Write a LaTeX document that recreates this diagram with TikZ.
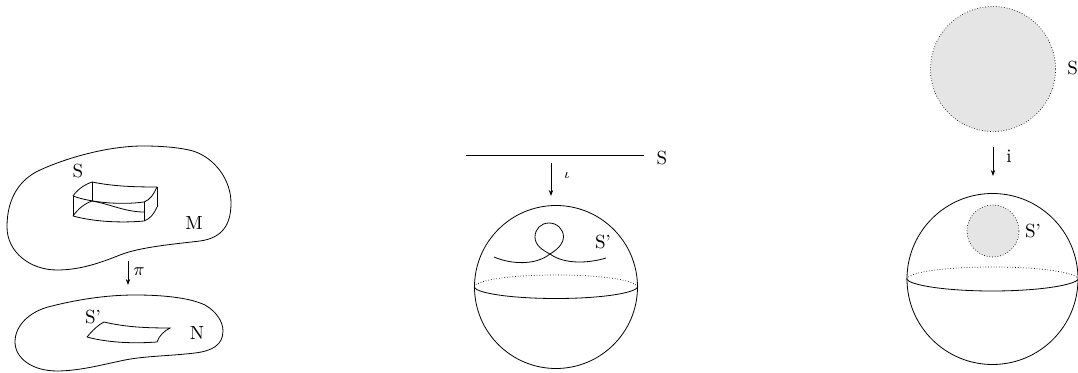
\documentclass[tikz,border=0pt]{standalone}
\usetikzlibrary{arrows.meta}
\tikzset{
  every node/.style={inner sep=0pt,font=\fontsize{9.5}{11}\selectfont},
  ln/.style={line width=0.4pt,black},
  dot/.style={line width=0.35pt,densely dotted},
  arr/.style={line width=0.4pt,-{Stealth[length=3pt,width=2.2pt]}},
  lbl/.style={anchor=center},
  fillg/.style={fill=black!10}
}
\begin{document}
\begin{tikzpicture}[x=0.5pt,y=-0.5pt]
\useasboundingbox (0,0) rectangle (1078,373);
% left blobs
\draw[ln] (7,227) .. controls (7,200) and (18,182) .. (36,172) .. controls (60,160) and (105,146) .. (143,146) .. controls (165,146) and (182,148) .. (193,151) .. controls (215,158) and (231,180) .. (231,203) .. controls (231,225) and (222,238) .. (200,241) .. controls (175,244) and (140,247) .. (120,255) .. controls (100,263) and (80,270) .. (57,270) .. controls (30,270) and (7,252) .. (7,227) -- cycle;
\draw[ln] (15,342) .. controls (15,325) and (30,312) .. (48,307) .. controls (75,300) and (105,295) .. (135,295) .. controls (165,295) and (190,298) .. (205,305) .. controls (217,312) and (223,322) .. (223,331) .. controls (223,345) and (212,351) .. (195,353) .. controls (170,356) and (145,356) .. (125,360) .. controls (105,364) and (80,371) .. (57,371) .. controls (32,371) and (15,358) .. (15,342) -- cycle;
% box
\coordinate (b1) at (73,196); \coordinate (b2) at (92,182); \coordinate (b3) at (157,187);\coordinate (b4) at (144,202);
\coordinate (b5) at (73,216); \coordinate (b6) at (92,201); \coordinate (b7) at (157,207);\coordinate (b8) at (144,221);
\draw[ln] (b1) .. controls (78,189) and (84,185) .. (b2) .. controls (112,186) and (130,187) .. (b3);
\draw[ln] (b1) .. controls (92,203) and (122,205) .. (b4) .. controls (150,200) and (154,194) .. (b3);
\draw[ln] (b5) .. controls (78,209) and (84,204) .. (b6) .. controls (110,204) and (125,212) .. (144,212);
\draw[ln] (b5) .. controls (95,222) and (122,223) .. (b8) .. controls (150,219) and (154,214) .. (b7);
\draw[ln] (b1)--(b5) (b2)--(b6) (b3)--(b7) (b4)--(b8);
% surface S'
\coordinate (c1) at (87,337); \coordinate (c2) at (104,322); \coordinate (c3) at (170,328); \coordinate (c4) at (157,342);
\draw[ln] (c1) .. controls (93,330) and (98,325) .. (c2) .. controls (125,327) and (145,328) .. (c3) .. controls (164,331) and (159,336) .. (c4) .. controls (130,344) and (105,342) .. (c1);
\node[lbl] (lS) at (78,171) {S};
\node[lbl] (lM) at (194,223) {M};
\node[lbl] (lSp) at (93,317) {S'};
\node[lbl] (lN) at (197,333) {N};
\coordinate (a1) at (128,261); \coordinate (a2) at (128,285);
\draw[arr] (a1)--(a2);
\node[lbl] (lpi) at (139,272) {$\pi$};
% middle
\coordinate (l1) at (466,155); \coordinate (l2) at (644,155);
\draw[ln] (l1)--(l2);
\node[lbl] (mS) at (662,158) {S};
\coordinate (m1) at (551,163); \coordinate (m2) at (551,196);
\draw[arr] (m1)--(m2);
\node[lbl,font=\fontsize{7}{8}\selectfont] (miota) at (567,175) {$\iota$};
\node[circle,draw,line width=0.4pt,minimum size=81.5pt] (ms) at (556,287) {};
\draw[ln] (ms.west) .. controls (476,293) and (510,298.5) .. (556,298.5) .. controls (602,298.5) and (635,293) .. (ms.east);
\draw[dot] (ms.west) .. controls (476,280) and (510,275) .. (556,275) .. controls (602,275) and (635,280) .. (ms.east);
\draw[ln] (494,257) .. controls (510,264) and (535,266) .. (550,254) .. controls (560,248) and (563.5,242) .. (563.5,237) .. controls (563.5,229) and (557,223) .. (549,223) .. controls (541,223) and (535,229) .. (535,237) .. controls (535,245) and (542,250) .. (550,254) .. controls (565,265) and (590,263) .. (606,258);
\node[lbl] (mSp) at (603,242) {S'};
% right
\node[circle,draw,dot,fillg,minimum size=62.5pt] (rc) at (993,69) {};
\node[lbl,anchor=west] (rS) at (1067,68) {S};
\coordinate (n1) at (993,147); \coordinate (n2) at (993,176);
\draw[arr] (n1)--(n2);
\node[lbl] (ri) at (1009,156) {i};
\node[circle,draw,line width=0.4pt,minimum size=85.5pt] (rs) at (992.5,279) {};
\draw[ln] (rs.west) .. controls (909,285) and (945,291) .. (992,291) .. controls (1040,291) and (1075,285) .. (rs.east);
\draw[dot] (rs.west) .. controls (909,272) and (945,267) .. (992,267) .. controls (1040,267) and (1075,272) .. (rs.east);
\node[circle,draw,dot,fillg,minimum size=26pt] (rc2) at (993,231) {};
\node[lbl] (rSp) at (1033,231) {S'};
\end{tikzpicture}
\end{document}
